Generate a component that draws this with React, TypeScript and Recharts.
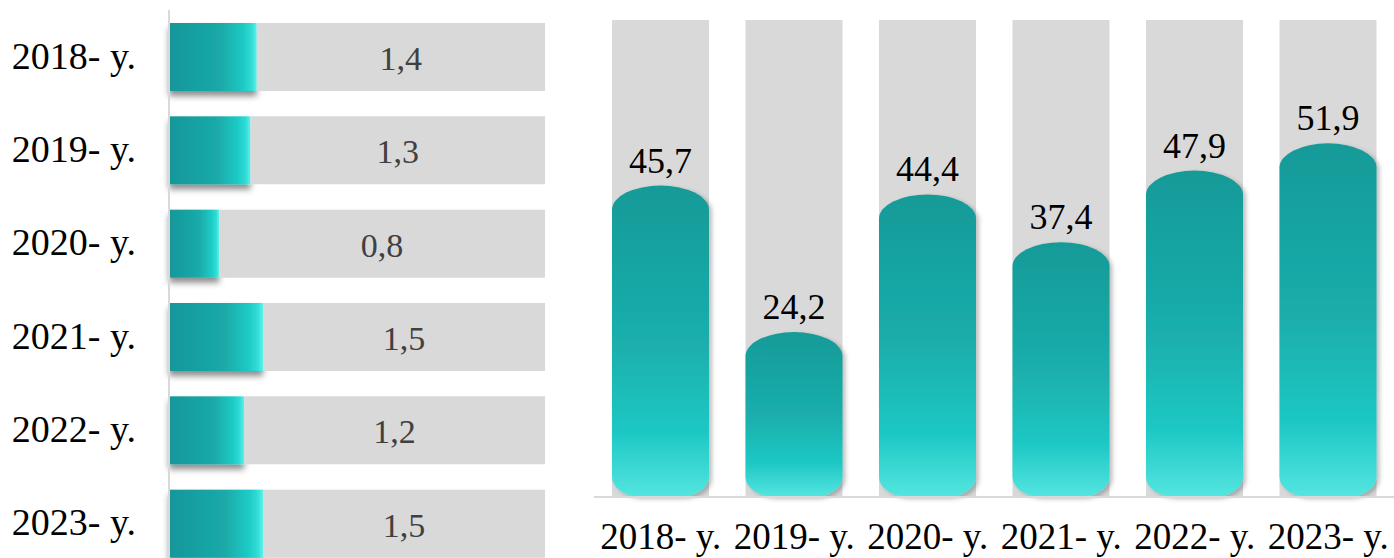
import React from 'react';
import { BarChart, Bar, XAxis, YAxis, LabelList } from 'recharts';

const years = ['2018- y.', '2019- y.', '2020- y.', '2021- y.', '2022- y.', '2023- y.'];
const leftValues = [1.4, 1.3, 0.8, 1.5, 1.2, 1.5];
const rightValues = [45.7, 24.2, 44.4, 37.4, 47.9, 51.9];
const LEFT_MAX = 6;
const RIGHT_MAX = 70;

const leftData = years.map((year, i) => ({ year, value: leftValues[i], rest: LEFT_MAX - leftValues[i] }));
const rightData = years.map((year, i) => ({ year, value: rightValues[i] }));

const FONT = "'Liberation Serif', 'Times New Roman', serif";
const fmt = (v: number) => String(v).replace('.', ',');

const LeftTick = (props: any) => {
  const { x, y, payload } = props;
  return (
    <text x={x - 33} y={y + 12} textAnchor="end" style={{ fontFamily: FONT, fontSize: 38 }} fill="#000">
      {payload.value}
    </text>
  );
};

const BottomTick = (props: any) => {
  const { x, y, payload } = props;
  return (
    <text x={x} y={y + 52} textAnchor="middle" style={{ fontFamily: FONT, fontSize: 37 }} fill="#000">
      {payload.value}
    </text>
  );
};

const LeftLabel = (props: any) => {
  const { x, y, width, height, value } = props;
  return (
    <text x={x + width / 2} y={y + height / 2 + 13} textAnchor="middle" style={{ fontFamily: FONT, fontSize: 34 }} fill="#404040">
      {fmt(value)}
    </text>
  );
};

const RightLabel = (props: any) => {
  const { x, y, width, value } = props;
  return (
    <text x={x + width / 2} y={y - 13} textAnchor="middle" style={{ fontFamily: FONT, fontSize: 36 }} fill="#000">
      {fmt(value)}
    </text>
  );
};

const LeftBarShape = (props: any) => {
  const { x, y, width, height } = props;
  return <rect x={x} y={y} width={width} height={height} fill="url(#hGrad)" filter="url(#shadowL)" />;
};

const RightBarShape = (props: any) => {
  const { x, y, width, height } = props;
  if (!height || height <= 0) return null;
  const w = width;
  const h = height;
  const ry = Math.min(24, h / 2);
  const brx = 30;
  const bry = Math.min(20, h / 2);
  const d = `M ${x} ${y + ry} A ${w / 2} ${ry} 0 0 1 ${x + w} ${y + ry} L ${x + w} ${y + h - bry} A ${brx} ${bry} 0 0 1 ${x + w - brx} ${y + h} L ${x + brx} ${y + h} A ${brx} ${bry} 0 0 1 ${x} ${y + h - bry} Z`;
  return <path d={d} fill="url(#vGrad)" filter="url(#shadowR)" />;
};

export default function App() {
  return (
    <div style={{ position: 'absolute', left: 0, top: 0, width: 1394, height: 558, overflow: 'hidden', background: '#fff' }}>
      <div style={{ position: 'absolute', left: 0, top: 0 }}>
        <BarChart
          layout="vertical"
          width={560}
          height={572}
          data={leftData}
          margin={{ top: 10, right: 15, bottom: 2, left: 0 }}
          barSize={68}
        >
          <defs>
            <linearGradient id="hGrad" x1="0" y1="0" x2="1" y2="0">
              <stop offset="0" stopColor="#15979a" />
              <stop offset="0.6" stopColor="#1aaaa8" />
              <stop offset="0.85" stopColor="#1ecbc6" />
              <stop offset="0.94" stopColor="#2fdcd6" />
              <stop offset="1" stopColor="#5cf2ea" />
            </linearGradient>
            <filter id="shadowL" x="-10%" y="-10%" width="130%" height="150%">
              <feDropShadow dx="0" dy="5" stdDeviation="3" floodColor="#000" floodOpacity="0.45" />
            </filter>
          </defs>
          <XAxis type="number" domain={[0, LEFT_MAX]} hide />
          <YAxis
            type="category"
            dataKey="year"
            width={169}
            axisLine={{ stroke: '#d9d9d9', strokeWidth: 2 }}
            tickLine={false}
            tickSize={0}
            tickMargin={0}
            tick={<LeftTick />}
            interval={0}
          />
          <Bar dataKey="value" stackId="a" isAnimationActive={false} shape={<LeftBarShape />} />
          <Bar dataKey="rest" stackId="a" fill="#d9d9d9" isAnimationActive={false}>
            <LabelList dataKey="value" content={<LeftLabel />} />
          </Bar>
        </BarChart>
      </div>
      <div style={{ position: 'absolute', left: 560, top: 0 }}>
        <BarChart
          width={835}
          height={558}
          data={rightData}
          margin={{ top: 20, right: 0, bottom: 0, left: 34 }}
          barSize={97}
        >
          <defs>
            <linearGradient id="vGrad" x1="0" y1="0" x2="0" y2="1">
              <stop offset="0" stopColor="#169a98" />
              <stop offset="0.5" stopColor="#1aaeab" />
              <stop offset="0.8" stopColor="#1fc9c5" />
              <stop offset="1" stopColor="#55e5e0" />
            </linearGradient>
            <filter id="shadowR" x="-10%" y="-10%" width="125%" height="125%">
              <feDropShadow dx="3" dy="2" stdDeviation="2" floodColor="#000" floodOpacity="0.25" />
            </filter>
          </defs>
          <XAxis
            dataKey="year"
            height={61}
            axisLine={{ stroke: '#d9d9d9', strokeWidth: 2 }}
            tickLine={false}
            tickSize={0}
            tickMargin={0}
            tick={<BottomTick />}
            interval={0}
          />
          <YAxis domain={[0, RIGHT_MAX]} hide />
          <Bar
            dataKey="value"
            isAnimationActive={false}
            background={{ fill: '#d9d9d9' }}
            shape={<RightBarShape />}
          >
            <LabelList dataKey="value" content={<RightLabel />} />
          </Bar>
        </BarChart>
      </div>
    </div>
  );
}
